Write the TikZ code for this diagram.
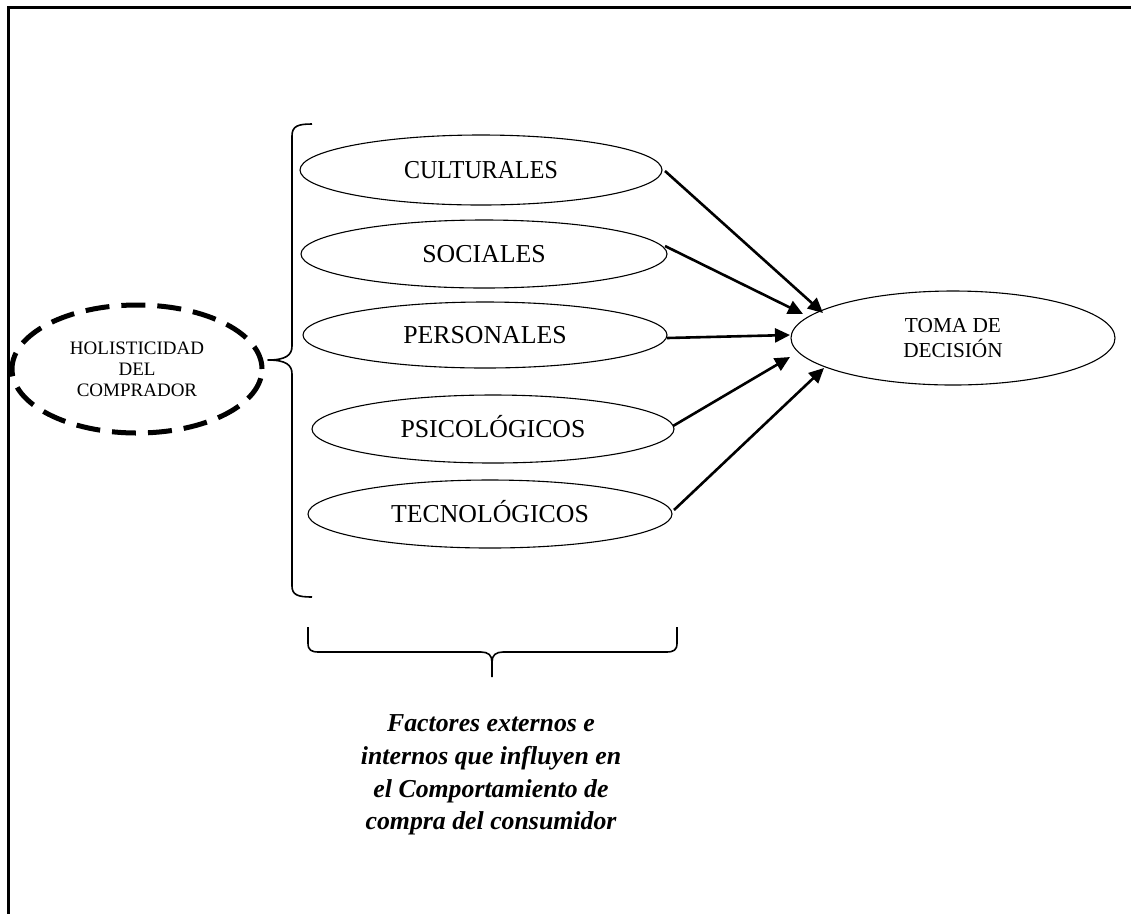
\documentclass[tikz,border=0pt]{standalone}
\usepackage{fontspec}
\setmainfont{Liberation Serif}
\usetikzlibrary{shapes.geometric,arrows.meta}
\begin{document}
\begin{tikzpicture}[x=1pt,y=-1pt,
  factor/.style={ellipse,draw,line width=1.1pt,inner sep=0pt,outer sep=0pt,
    font=\fontsize{25.8}{30}\selectfont,text height=17.1pt,text depth=0pt},
  arr/.style={line width=2.6pt,-{Triangle[length=15pt,width=14pt]}},
  bracket/.style={line width=1.6pt,line join=round},
  frameline/.style={line width=2.4pt},
]
\useasboundingbox (0,0) rectangle (1131,914);

% outer frame (top and left edges)
\draw[frameline] (1131,7.5) -- (8.5,7.5) -- (8.5,914);

% buyer holism
\node[ellipse,draw,line width=5pt,dash pattern=on 24pt off 12pt,
      minimum width=250pt,minimum height=128pt,inner sep=0pt,align=center,
      font=\fontsize{19}{21}\selectfont] (hol) at (137,369)
      {HOLISTICIDAD\\DEL\\COMPRADOR};

% factor ellipses
\node[factor,minimum width=362pt,minimum height=70pt] (cult) at (481,170) {\scalebox{0.93}[1]{CULTURALES}};
\node[factor,minimum width=366pt,minimum height=68pt] (soc)  at (484,254) {SOCIALES};
\node[factor,minimum width=364pt,minimum height=66pt] (pers) at (485,335) {PERSONALES};
\node[factor,minimum width=362pt,minimum height=68pt] (psic) at (493,429) {PSICOLÓGICOS};
\node[factor,minimum width=364pt,minimum height=68pt] (tec)  at (490,514) {TECNOLÓGICOS};

% decision
\node[ellipse,draw,line width=1.1pt,inner sep=0pt,outer sep=0pt,
      minimum width=324pt,minimum height=94pt,align=center,
      font=\fontsize{21.3}{25}\selectfont] (toma) at (953,338)
      {TOMA DE\\DECISIÓN};

% left brace grouping the factors
\draw[bracket] (312,124) .. controls (298,124) and (292,126) .. (292,136)
  -- (292,346) .. controls (292,355) and (286,360) .. (268,360)
  .. controls (286,360) and (292,365) .. (292,374)
  -- (292,586) .. controls (292,595) and (298,597) .. (312,597);

% lower brace
\draw[bracket] (308,627) -- (308,643) .. controls (308,650) and (311,652) .. (319,652)
  -- (481,652) .. controls (488,652) and (492,655) .. (492,662) -- (492,677);
\draw[bracket] (492,662) .. controls (492,655) and (496,652) .. (503,652)
  -- (666,652) .. controls (674,652) and (677,650) .. (677,643) -- (677,627);

% influences
\draw[arr] ([shift={(3,1)}]cult.east)  -- ([shift={(32,-25)}]toma.west);
\draw[arr] ([shift={(-2,-8)}]soc.east) -- ([shift={(12,-24)}]toma.west);
\draw[arr] ([shift={(0,3)}]pers.east)  -- ([shift={(-1,-3)}]toma.west);
\draw[arr] ([shift={(-1,-3)}]psic.east) -- ([shift={(-1,19)}]toma.west);
\draw[arr] ([shift={(2,-4)}]tec.east)  -- ([shift={(33,30)}]toma.west);

% caption of the lower brace
\node[align=center,font=\fontsize{25.8}{32.7}\selectfont\bfseries\itshape] (cap) at (491,775)
  {Factores externos e\\internos que influyen en\\el Comportamiento de\\compra del consumidor};
\end{tikzpicture}
\end{document}
